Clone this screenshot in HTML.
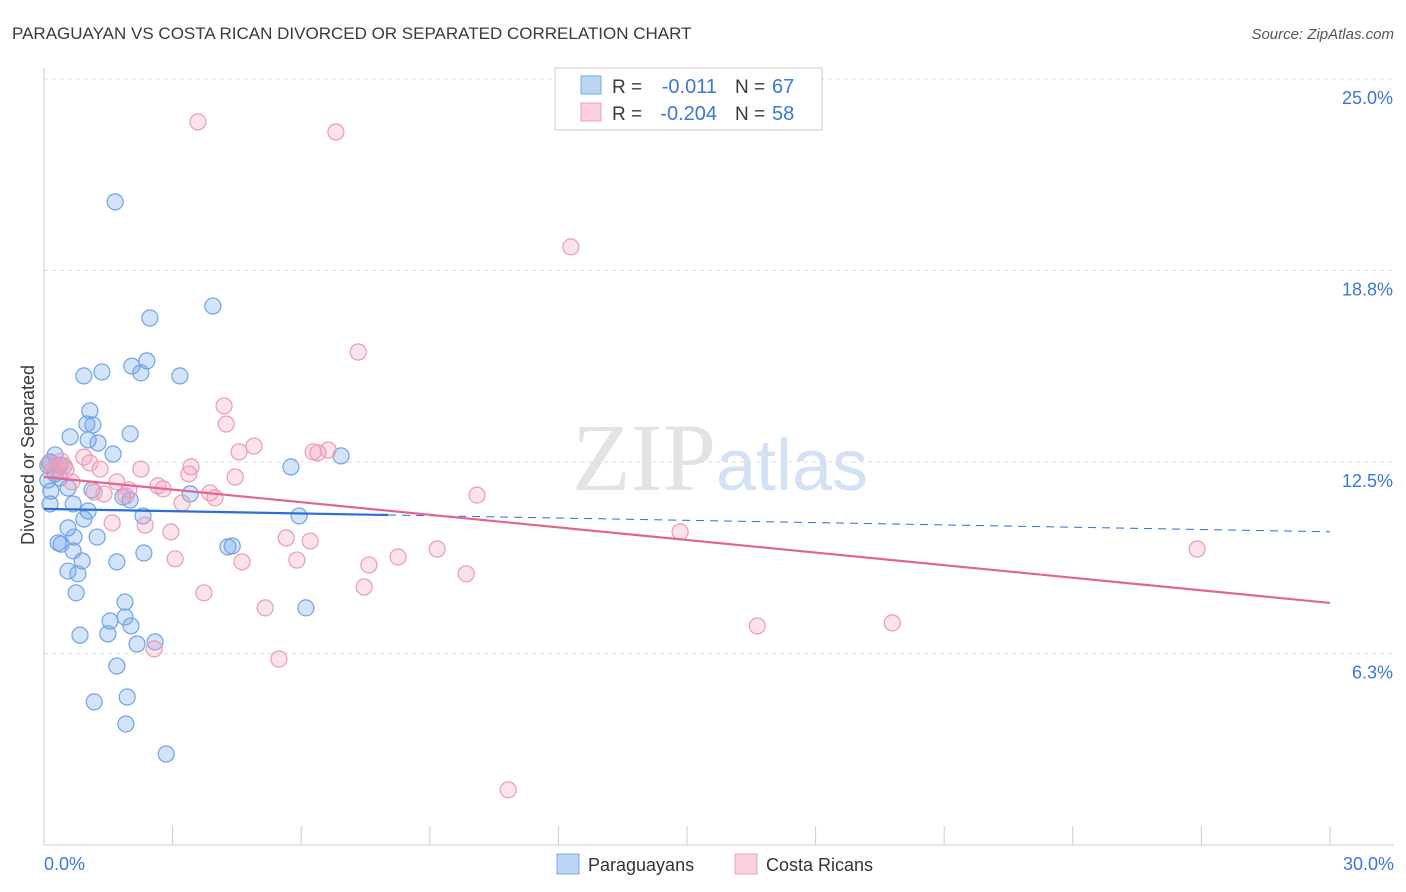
<!DOCTYPE html>
<html><head><meta charset="utf-8"><style>
body{margin:0;background:#fff;font-family:"Liberation Sans",sans-serif;}
</style></head><body>
<svg id="c" width="1406" height="892" xmlns="http://www.w3.org/2000/svg" style="display:block">
<text x="12" y="39" font-size="17" fill="#3a3a3a">PARAGUAYAN VS COSTA RICAN DIVORCED OR SEPARATED CORRELATION CHART</text>
<text x="1394" y="39" font-size="15" fill="#555" font-style="italic" text-anchor="end">Source: ZipAtlas.com</text>
<text x="720" y="490" font-size="96" text-anchor="middle" font-family="Liberation Serif,serif" fill="#ddd" opacity="0.8">ZIP<tspan fill="#c8daf2" font-family="Liberation Sans,sans-serif" font-size="72">atlas</tspan></text>
<text transform="translate(34,455) rotate(-90)" font-size="18" fill="#3a3a3a" text-anchor="middle">Divorced or Separated</text>
<g id="grid"></g><g id="axes"></g><g id="marks"></g>
<g>
<rect x="555" y="68" width="267" height="62" fill="#fff" stroke="#ccc"/>
<rect x="581" y="76" width="20" height="18" fill="#bcd5f5" stroke="#7aa9e6"/>
<rect x="581" y="103" width="20" height="18" fill="#fbd0dd" stroke="#eba3bb"/>
<text x="612" y="93" font-size="19" fill="#3a3a3a">R =</text>
<text x="717" y="93" font-size="20" fill="#3a78d8" text-anchor="end">-0.011</text>
<text x="735" y="93" font-size="19" fill="#3a3a3a">N =</text>
<text x="772" y="93" font-size="20" fill="#3a78d8">67</text>
<text x="612" y="120" font-size="19" fill="#3a3a3a">R =</text>
<text x="717" y="120" font-size="20" fill="#3a78d8" text-anchor="end">-0.204</text>
<text x="735" y="120" font-size="19" fill="#3a3a3a">N =</text>
<text x="772" y="120" font-size="20" fill="#3a78d8">58</text>
</g>
<g>
<rect x="557" y="854" width="22" height="20" fill="#bcd5f5" stroke="#7aa9e6"/>
<text x="588" y="871" font-size="18" fill="#333">Paraguayans</text>
<rect x="735" y="854" width="22" height="20" fill="#fbd0dd" stroke="#eba3bb"/>
<text x="766" y="871" font-size="18" fill="#333">Costa Ricans</text>
</g>
</svg>
<script>
const yTicks=[6.25,12.5,18.75,25];
const yTickLabels=["6.3%","12.5%","18.8%","25.0%"];
const xTicks=[0,3,6,9,12,15,18,21,24,27,30];
const blueX=[1.66,3.94,2.47,2.40,2.05,2.26,0.93,1.35,3.17,1.07,1.00,1.14,0.61,2.01,1.03,1.26,1.61,0.26,0.14,0.37,0.47,5.76,6.93,0.26,0.09,0.37,0.56,0.16,1.12,1.84,3.41,0.14,0.68,1.03,0.93,5.95,2.31,0.56,0.70,1.24,0.33,0.40,4.39,4.29,0.68,2.33,0.89,1.70,0.56,0.79,0.75,1.89,1.89,1.54,2.03,0.84,1.49,2.59,2.17,6.11,1.70,1.94,1.17,1.91,2.85,0.09,2.01];
const blueY=[20.99,17.59,17.20,15.80,15.63,15.41,15.31,15.44,15.31,14.17,13.74,13.71,13.32,13.42,13.22,13.12,12.76,12.73,12.50,12.40,12.37,12.34,12.70,12.11,11.91,11.98,11.65,11.55,11.59,11.36,11.46,11.13,11.13,10.90,10.64,10.74,10.74,10.35,10.05,10.05,9.86,9.82,9.76,9.73,9.60,9.53,9.27,9.24,8.94,8.85,8.23,7.93,7.44,7.31,7.15,6.85,6.89,6.63,6.56,7.74,5.84,4.83,4.67,3.95,2.97,12.40,11.26];
const pinkX=[3.59,6.81,12.29,7.33,4.20,4.25,4.90,4.55,6.28,6.63,6.39,0.93,1.31,0.30,0.47,1.07,0.51,2.26,3.43,3.38,4.46,0.65,1.70,2.66,2.78,1.98,1.17,1.40,1.91,3.87,3.99,3.22,10.10,2.36,2.96,1.59,5.65,6.21,14.84,9.17,8.26,5.90,3.06,4.62,7.58,9.85,7.47,3.73,5.16,26.90,16.64,19.79,2.57,5.48,10.83,0.12,0.21,0.40];
const pinkY=[23.60,23.27,19.52,16.09,14.33,13.74,13.02,12.83,12.83,12.89,12.80,12.66,12.27,12.31,12.37,12.47,12.24,12.27,12.34,12.11,12.01,11.85,11.85,11.72,11.62,11.59,11.52,11.46,11.39,11.49,11.33,11.16,11.42,10.44,10.22,10.51,10.02,9.92,10.22,9.66,9.40,9.30,9.34,9.24,9.14,8.85,8.42,8.23,7.74,9.66,7.15,7.25,6.40,6.07,1.80,12.47,12.24,12.53];
const blueTrend=[10.97,10.22], blueSolidEnd=8.03;
const pinkTrend=[12.01,7.90];
const NS="http://www.w3.org/2000/svg";
const X=v=>44+v/30*1286, Y=v=>845-v/25*766;
function mk(p,t,a){const e=document.createElementNS(NS,t);for(const k in a)e.setAttribute(k,a[k]);document.getElementById(p).appendChild(e);return e;}
yTicks.forEach((t,i)=>{
 let l=mk('grid','line',{x1:44,x2:1394,y1:Y(t),y2:Y(t),stroke:'#ddd','stroke-dasharray':'4,4'});
 
 
 let tx=mk('grid','text',{x:1393,y:Y(t)+25,'font-size':18,fill:'#3a78d8','text-anchor':'end'});
 tx.textContent=yTickLabels[i];
 
 
});
let ax=mk('axes','line',{x1:44,x2:44,y1:68,y2:845,stroke:'#ccc'});


let bx=mk('axes','line',{x1:44,x2:1394,y1:845,y2:845,stroke:'#ccc'});


xTicks.forEach(t=>{let l=mk('axes','line',{x1:X(t),x2:X(t),y1:826,y2:845,stroke:'#ccc'});
 
 });
[[0,"0.0%",'start',44],[30,"30.0%",'end',1394]].forEach(d=>{let t=mk('axes','text',{x:d[3],y:870,'font-size':18,fill:'#3a78d8','text-anchor':d[2]});t.textContent=d[1];
 
 });
blueX.forEach((v,i)=>{let c=mk('marks','circle',{cx:X(v),cy:Y(blueY[i]),r:8,fill:'rgba(110,165,235,0.3)',stroke:'#6fa3e6','stroke-width':1.2});
 
 });
pinkX.forEach((v,i)=>{let c=mk('marks','circle',{cx:X(v),cy:Y(pinkY[i]),r:8,fill:'rgba(245,160,190,0.3)',stroke:'#eb9ab6','stroke-width':1.2});
 
 });
const by=x=>blueTrend[0]+(blueTrend[1]-blueTrend[0])*x/30;
let b1=mk('marks','line',{x1:X(0),y1:Y(by(0)),x2:X(blueSolidEnd),y2:Y(by(blueSolidEnd)),stroke:'#2a6fd6','stroke-width':2.2});


let b2=mk('marks','line',{x1:X(blueSolidEnd),y1:Y(by(blueSolidEnd)),x2:X(30),y2:Y(by(30)),stroke:'#2a6fd6','stroke-width':1,'stroke-dasharray':'8,6'});


let p1=mk('marks','line',{x1:X(0),y1:Y(pinkTrend[0]),x2:X(30),y2:Y(pinkTrend[1]),stroke:'#e2658f','stroke-width':2.2});


</script>
</body></html>
